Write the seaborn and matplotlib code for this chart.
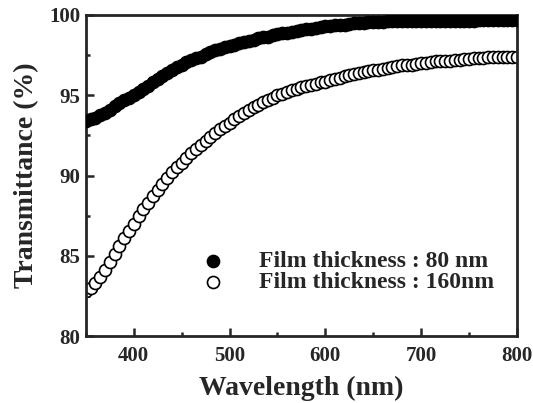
import matplotlib
matplotlib.use("Agg")
import matplotlib.pyplot as plt
import pandas as pd
import seaborn as sns
from matplotlib.ticker import MultipleLocator

# wavelength grid (nm), one value per marker
wavelength = [350, 355, 360, 365, 370, 375, 380, 385, 390, 395,
              400, 405, 410, 415, 420, 425, 430, 435, 440, 445,
              450, 455, 460, 465, 470, 475, 480, 485, 490, 495,
              500, 505, 510, 515, 520, 525, 530, 535, 540, 545,
              550, 555, 560, 565, 570, 575, 580, 585, 590, 595,
              600, 605, 610, 615, 620, 625, 630, 635, 640, 645,
              650, 655, 660, 665, 670, 675, 680, 685, 690, 695,
              700, 705, 710, 715, 720, 725, 730, 735, 740, 745,
              750, 755, 760, 765, 770, 775, 780, 785, 790, 795, 800]

# transmittance (%)
t_80nm = [93.4, 93.5, 93.6, 93.75, 93.9, 94.1, 94.3, 94.5, 94.7, 94.85,
          95.0, 95.2, 95.4, 95.6, 95.8, 96.0, 96.2, 96.4, 96.6, 96.75,
          96.9, 97.05, 97.2, 97.3, 97.4, 97.55, 97.7, 97.8, 97.9, 98.0,
          98.05, 98.15, 98.25, 98.3, 98.4, 98.45, 98.55, 98.6, 98.65, 98.75,
          98.8, 98.85, 98.9, 98.95, 99.0, 99.05, 99.1, 99.15, 99.2, 99.25,
          99.3, 99.3, 99.35, 99.4, 99.4, 99.45, 99.5, 99.5, 99.5, 99.55,
          99.55, 99.55, 99.55, 99.6, 99.6, 99.6, 99.6, 99.6, 99.6, 99.6,
          99.6, 99.6, 99.6, 99.65, 99.65, 99.65, 99.65, 99.65, 99.65, 99.65,
          99.65, 99.65, 99.7, 99.7, 99.7, 99.7, 99.7, 99.7, 99.7, 99.7, 99.7]

t_160nm = [82.8, 83.0, 83.3, 83.7, 84.1, 84.6, 85.1, 85.6, 86.1, 86.55,
           87.0, 87.45, 87.9, 88.3, 88.7, 89.1, 89.5, 89.85, 90.2, 90.5,
           90.8, 91.1, 91.4, 91.65, 91.9, 92.15, 92.4, 92.65, 92.9, 93.1,
           93.3, 93.5, 93.7, 93.9, 94.1, 94.25, 94.4, 94.55, 94.7, 94.85,
           95.0, 95.1, 95.2, 95.3, 95.4, 95.5, 95.55, 95.65, 95.7, 95.8,
           95.85, 95.95, 96.0, 96.1, 96.2, 96.25, 96.3, 96.4, 96.45, 96.5,
           96.55, 96.6, 96.65, 96.7, 96.75, 96.8, 96.85, 96.9, 96.9, 96.95,
           97.0, 97.0, 97.05, 97.1, 97.1, 97.15, 97.15, 97.2, 97.2, 97.25,
           97.25, 97.3, 97.3, 97.3, 97.35, 97.35, 97.35, 97.4, 97.4, 97.4, 97.4]

labels = ["Film thickness : 80 nm", "Film thickness : 160nm"]

sns.set_theme(style="ticks")
plt.rcParams["font.family"] = ["Liberation Serif", "DejaVu Serif"]
plt.rcParams["font.weight"] = "bold"

fig = plt.figure(figsize=(5.33, 4.03), dpi=100)
ax = fig.add_axes([0.161, 0.166, 0.809, 0.797])

# filled circles drawn on top of the open ones
sns.scatterplot(x=wavelength, y=t_80nm, ax=ax, marker="o", s=75,
                color="black", edgecolor="black", linewidth=1.2,
                label=labels[0], zorder=3)
sns.scatterplot(x=wavelength, y=t_160nm, ax=ax, marker="o", s=75,
                color="white", edgecolor="black", linewidth=1.2,
                label=labels[1], zorder=2)

ax.set_xlim(350, 800)
ax.set_ylim(80, 100)
ax.xaxis.set_major_locator(MultipleLocator(100))
ax.xaxis.set_minor_locator(MultipleLocator(50))
ax.yaxis.set_major_locator(MultipleLocator(5))
ax.yaxis.set_minor_locator(MultipleLocator(2.5))

ax.tick_params(which="both", direction="in", width=1.8, labelsize=15, pad=4)
ax.tick_params(axis="x", which="both", pad=7)
ax.tick_params(which="major", length=6)
ax.tick_params(which="minor", length=3)
for lab in ax.get_xticklabels() + ax.get_yticklabels():
    lab.set_fontweight("bold")
for sp in ax.spines.values():
    sp.set_linewidth(2)
    sp.set_visible(True)

ax.set_xlabel("Wavelength (nm)", fontsize=20, fontweight="bold", labelpad=7)
ax.set_ylabel("Transmittance (%)", fontsize=20, fontweight="bold", labelpad=7)

ax.legend(loc="center left", bbox_to_anchor=(0.19, 0.2), frameon=False,
          prop={"size": 17, "weight": "bold"}, handletextpad=0.95,
          labelspacing=0.0, markerscale=1.0)

fig.savefig("out.png", dpi=100)
